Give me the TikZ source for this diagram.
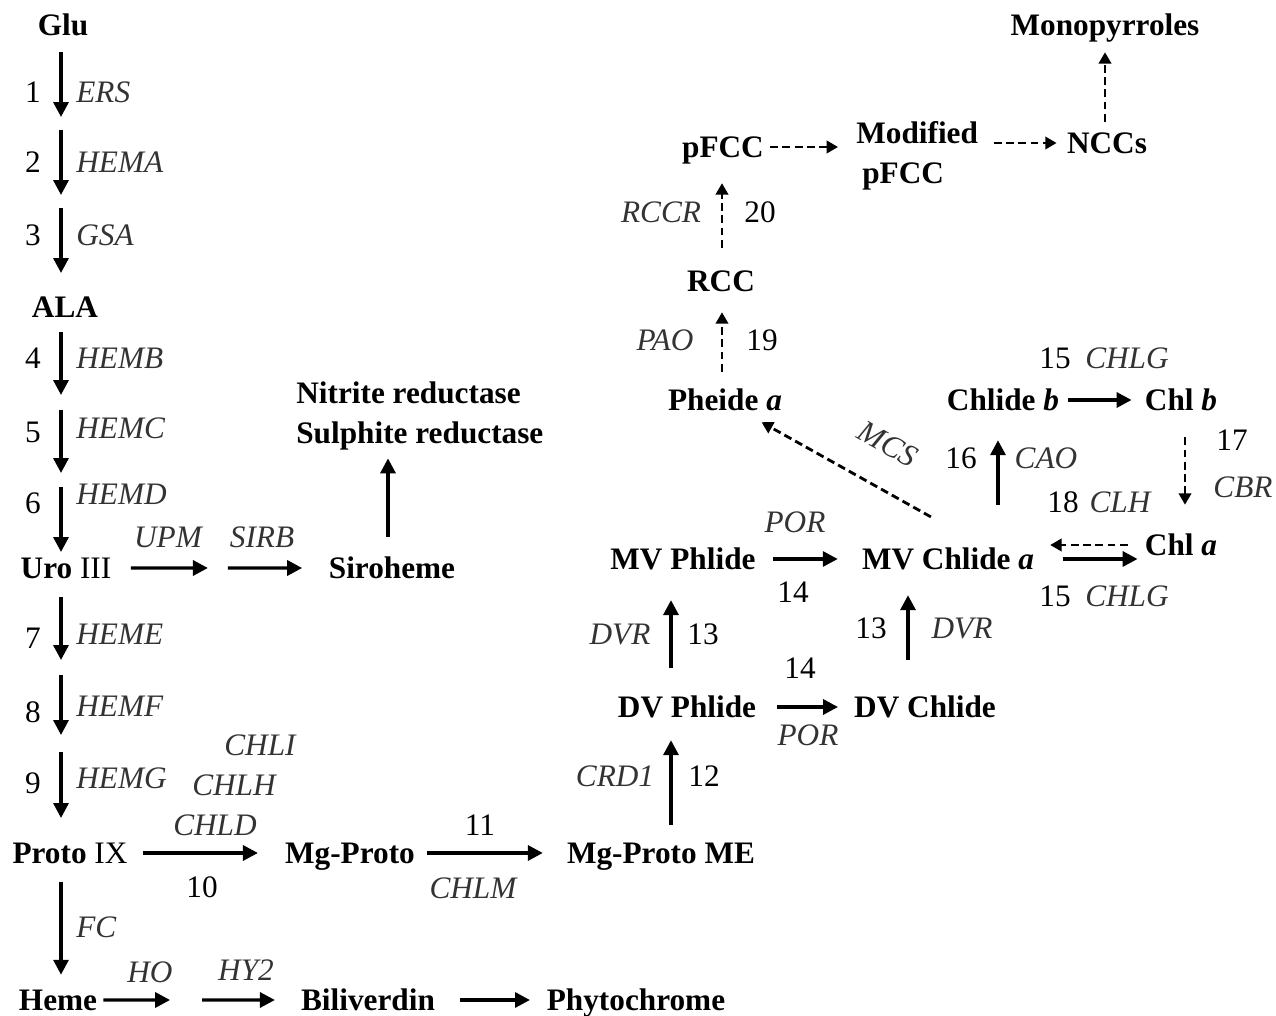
\documentclass[tikz,border=0pt]{standalone}
\usepackage{fontspec}
\setmainfont{Liberation Serif}
\usetikzlibrary{arrows.meta,%
		calc,%
		positioning}

\newcommand{\picsize}{\fontsize{17.8}{22.7}\selectfont}
\newcommand{\romIII}{\iffontchar\font"2162 \char"2162\else III\fi}
\newcommand{\romIX}{\iffontchar\font"2168 \char"2168\else IX\fi}

\tikzset{
  cpd/.style={font=\picsize\bfseries, inner sep=0pt, text height=11.8pt, text depth=0pt},
  cpdm/.style={font=\picsize\bfseries, inner sep=0pt, align=left},
  enz/.style={font=\picsize\itshape, text=black!80, inner sep=0pt, text height=11.8pt, text depth=0pt},
  num/.style={font=\picsize, inner sep=0pt, text height=11.8pt, text depth=0pt},
  conv/.style={line width=1.9pt, -{Triangle[length=8.5pt,width=8.5pt]}},
  deg/.style={line width=1.6pt, dash pattern=on 4.5pt off 2.5pt, -{Triangle[length=6.5pt,width=7pt]}}
}

\begin{document}
\begin{tikzpicture}[x=0.02cm,y=-0.02cm]
\useasboundingbox (0,0) rectangle (1276,1016);

% compounds
\node[cpd] (glu) at (63,25) {Glu};
\node[cpd] (ala) at (65,307) {ALA};
\node[cpd] (uro) at (66,568) {Uro {\mdseries\romIII}};
\node[cpd] (siro) at (392,568) {Siroheme};
\node[cpdm, anchor=west] (nitr) at (296,416) {Nitrite reductase\\Sulphite reductase};
\node[cpd] (proto) at (70,853) {Proto {\mdseries\romIX}};
\node[cpd] (mgp) at (350,853) {Mg-Proto};
\node[cpd] (mgpme) at (661,853) {Mg-Proto ME};
\node[cpd] (heme) at (58,1000) {Heme};
\node[cpd] (bili) at (368,1000) {Biliverdin};
\node[cpd] (phyto) at (636,1000) {Phytochrome};
\node[cpd] (dvph) at (687,707) {DV Phlide};
\node[cpd] (dvch) at (925,707) {DV Chlide};
\node[cpd] (mvph) at (683,559) {MV Phlide};
\node[cpd] (mvch) at (948,559) {MV Chlide \textit{a}};
\node[cpd] (phe) at (725,400) {Pheide \textit{a}};
\node[cpd] (rcc) at (721,281) {RCC};
\node[cpd] (pfcc) at (723,147) {pFCC};
\node[cpdm, anchor=west] (mod) at (856,156) {Modified\\\hspace{3.4pt}pFCC};
\node[cpd] (nccs) at (1107,143) {NCCs};
\node[cpd] (mono) at (1105,25) {Monopyrroles};
\node[cpd] (chlidb) at (1003,400) {Chlide \textit{b}};
\node[cpd] (chlb) at (1181,400) {Chl \textit{b}};
\node[cpd] (chla) at (1181,545) {Chl \textit{a}};

\coordinate (colL) at (61,0);
\coordinate (colS) at (388,0);
\coordinate (colA) at (671,0);
\coordinate (colE) at (722,0);
\coordinate (colB) at (908,0);
\coordinate (colC) at (998,0);
\coordinate (colF) at (1105,0);
\coordinate (colD) at (1185,0);

% Glu to Proto IX
\foreach \n/\e/\ya/\yb/\yn/\ye in {1/ERS/52/117/92/92, 2/HEMA/130/195/162/162,
    3/GSA/208/273/235/235, 4/HEMB/332/395/358/358, 5/HEMC/410/473/432/428,
    6/HEMD/487/552/503/494, 7/HEME/597/660/638/634, 8/HEMF/675/735/712/706,
    9/HEMG/752/818/783/778}{
  \coordinate (s\n) at (61,\ya);
  \coordinate (t\n) at (61,\yb);
  \draw[conv] (s\n) -- (t\n);
  \node[num, anchor=east] (n\n) at (41,\yn) {\n};
  \node[enz, anchor=west] (z\n) at (76,\ye) {\e};
}

\draw[conv, shorten <=10.5pt, shorten >=8.3pt] (proto.south -| colL) -- (heme.north -| colL);
\node[enz, anchor=west] (zFC) at (76,927) {FC};

% siroheme branch
\coordinate (m1) at ($(uro.east)!.49!(siro.west)$);
\draw[conv, shorten <=11pt, shorten >=5.7pt] (uro.east) -- (m1);
\draw[conv, shorten <=5.7pt, shorten >=15pt] (m1) -- (siro.west);
\node[enz] (zUPM) at (168,537) {UPM};
\node[enz] (zSIRB) at (262,537) {SIRB};
\draw[conv, shorten <=11.7pt, shorten >=4.5pt] (siro.north -| colS) -- (nitr.south -| colS);

% heme branch
\coordinate (m2) at ($(heme.east)!.436!(bili.west)$);
\draw[conv, shorten <=3.4pt, shorten >=9.1pt] (heme.east) -- (m2);
\draw[conv, shorten <=9.1pt, shorten >=14.7pt] (m2) -- (bili.west);
\draw[conv, shorten <=14.2pt, shorten >=9.4pt] (bili.east) -- (phyto.west);
\node[enz] (zHO) at (150,972) {HO};
\node[enz] (zHY2) at (246,970) {HY2};

% Mg branch
\draw[conv, shorten <=8.5pt, shorten >=15.3pt] (proto.east) -- (mgp.west);
\node[enz] (zCHLI) at (260,745) {CHLI};
\node[enz] (zCHLH) at (234,785) {CHLH};
\node[enz] (zCHLD) at (215,825) {CHLD};
\node[num] (n10) at (202,887) {10};
\draw[conv, shorten <=6.8pt, shorten >=13.6pt] (mgp.east) -- (mgpme.west);
\node[num] (n11) at (480,825) {11};
\node[enz] (zCHLM) at (473,888) {CHLM};

\draw[conv, shorten <=10pt, shorten >=12.8pt] (mgpme.north -| colA) -- (dvph.south -| colA);
\node[enz] (zCRD1) at (615,776) {CRD1};
\node[num] (n12) at (704,776) {12};

\draw[conv, shorten <=11.9pt, shorten >=9pt] (dvph.east) -- (dvch.west);
\node[num] (n14a) at (800,668) {14};
\node[enz] (zPORa) at (808,735) {POR};

\draw[conv, shorten <=16.2pt, shorten >=17.3pt] (dvph.north -| colA) -- (mvph.south -| colA);
\node[enz] (zDVRa) at (620,634) {DVR};
\node[num] (n13a) at (703,634) {13};

\draw[conv, shorten <=20.8pt, shorten >=14.5pt] (dvch.north -| colB) -- (mvch.south -| colB);
\node[num] (n13b) at (871,628) {13};
\node[enz] (zDVRb) at (962,628) {DVR};

\draw[conv, shorten <=9.9pt, shorten >=13.6pt] (mvph.east) -- (mvph.east -| mvch.west);
\node[enz] (zPORb) at (795,522) {POR};
\node[num] (n14b) at (793,592) {14};

% chlorophyll cycle
\draw[conv, shorten <=24.7pt, shorten >=16.8pt] (mvch.north -| colC) -- (chlidb.south -| colC);
\node[num] (n16) at (961,458) {16};
\node[enz] (zCAO) at (1046,458) {CAO};

\draw[conv, shorten <=5.1pt, shorten >=7.4pt] (chlidb.east) -- (chlb.west);
\node[num] (n15a) at (1055,358) {15};
\node[enz] (zCHLGa) at (1127,358) {CHLG};

\draw[deg, shorten <=15.1pt, shorten >=16.8pt] (chlb.south -| colD) -- (chla.north -| colD);
\node[num] (n17) at (1232,440) {17};
\node[enz] (zCBR) at (1243,487) {CBR};

\draw[conv, shorten <=16.4pt, shorten >=4pt] (mvch.east) -- (mvch.east -| chla.west);
\node[num] (n15b) at (1055,596) {15};
\node[enz] (zCHLGb) at (1127,596) {CHLG};

\draw[deg, shorten <=9.6pt, shorten >=9pt] (chla.west) -- (chla.west -| mvch.east);
\node[num] (n18) at (1063,502) {18};
\node[enz] (zCLH) at (1120,502) {CLH};

% degradation
\draw[deg, shorten <=36.6pt, shorten >=13.4pt] ($(mvch.north)+(39,0)$) -- ($(phe.south)+(16,0)$);
\node[enz, rotate=-29.5] (zMCS) at (888,444) {MCS};

\draw[deg, shorten <=10pt, shorten >=11.7pt] (phe.north -| colE) -- (rcc.south -| colE);
\node[enz] (zPAO) at (665,340) {PAO};
\node[num] (n19) at (762,340) {19};

\draw[deg, shorten <=12.8pt, shorten >=14.5pt] (rcc.north -| colE) -- (pfcc.south -| colE);
\node[enz] (zRCCR) at (661,212) {RCCR};
\node[num] (n20) at (760,212) {20};

\draw[deg, shorten <=3.4pt, shorten >=10.2pt] (pfcc.east) -- (pfcc.east -| mod.west);
\draw[deg, shorten <=8.7pt, shorten >=5.7pt] (nccs.west -| mod.east) -- (nccs.west);
\draw[deg, shorten <=6pt, shorten >=9.4pt] (nccs.north -| colF) -- (mono.south -| colF);

\end{tikzpicture}
\end{document}
